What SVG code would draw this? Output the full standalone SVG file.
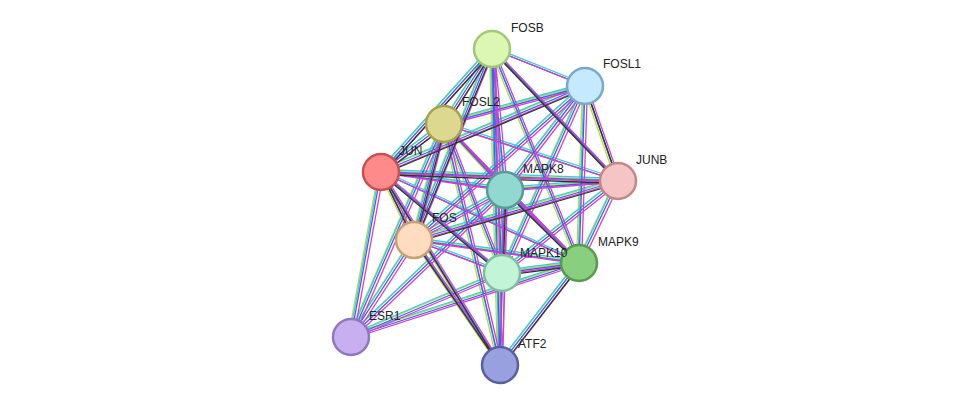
<svg xmlns="http://www.w3.org/2000/svg" xmlns:xlink="http://www.w3.org/1999/xlink" width="976" height="411" viewBox="0 0 976 411">
<style>
.e{fill:none;stroke-width:1.3}
.n{stroke-width:2.5}
text{font-family:"Liberation Sans",Arial,sans-serif;font-size:12px;fill:#222}
</style>
<defs>
<path id="all" d="M492 49L585 86M492 49L444 124M492 49L381 172M492 49L505 190M492 49L618 181M492 49L414 240M492 49L502 273M492 49L579 263M585 86L444 124M585 86L381 172M585 86L505 190M585 86L618 181M585 86L414 240M585 86L502 273M585 86L579 263M444 124L381 172M444 124L505 190M444 124L618 181M444 124L414 240M444 124L502 273M444 124L579 263M381 172L505 190M381 172L618 181M381 172L414 240M381 172L502 273M381 172L579 263M505 190L618 181M505 190L414 240M505 190L502 273M505 190L579 263M618 181L414 240M618 181L502 273M618 181L579 263M414 240L502 273M414 240L579 263M502 273L579 263M351 337L381 172M351 337L414 240M351 337L444 124M351 337L505 190M351 337L502 273M351 337L579 263M500 365L381 172M500 365L414 240M500 365L444 124M500 365L505 190M500 365L502 273M500 365L579 263M500 365L492 49"/>
<path id="blk" d="M492 49L444 124M492 49L381 172M492 49L414 240M492 49L618 181M585 86L381 172M585 86L618 181M444 124L381 172M444 124L414 240M381 172L414 240M381 172L618 181M381 172L502 273M505 190L579 263M505 190L502 273M502 273L579 263M500 365L579 263M500 365L414 240M500 365L381 172M414 240L618 181"/>
</defs>
<g id="connectors">
<use xlink:href="#all" class="e" stroke="#b8dc40" transform="translate(-2.5,-1)"/>
<use xlink:href="#all" class="e" stroke="#40c8e0" transform="translate(-1,-2.5)"/>
<use xlink:href="#all" class="e" stroke="#4060e8" transform="translate(0,0)"/>
<use xlink:href="#all" class="e" stroke="#d040d0" transform="translate(2.5,1)"/>
<use xlink:href="#blk" class="e" stroke="#333" transform="translate(1,2.5)"/>
</g>
<g id="FOSB"><circle class="n" cx="492" cy="49" r="18" fill="#dcf7b4" stroke="#a0c878"/></g>
<g id="FOSL1"><circle class="n" cx="585" cy="86" r="18" fill="#c5eaff" stroke="#7aa8c8"/></g>
<g id="FOSL2"><circle class="n" cx="444" cy="124" r="18" fill="#dcd890" stroke="#a8a050"/></g>
<g id="JUN"><circle class="n" cx="381" cy="172" r="18" fill="#ff8a8a" stroke="#c85050"/></g>
<g id="MAPK8"><circle class="n" cx="505" cy="190" r="18" fill="#90d8d0" stroke="#5a9a96"/></g>
<g id="JUNB"><circle class="n" cx="618" cy="181" r="18" fill="#f5c5c5" stroke="#c08888"/></g>
<g id="FOS"><circle class="n" cx="414" cy="240" r="18" fill="#ffdcc0" stroke="#c8a070"/></g>
<g id="MAPK10"><circle class="n" cx="502" cy="273" r="18" fill="#c2f5d8" stroke="#80c0a0"/></g>
<g id="MAPK9"><circle class="n" cx="579" cy="263" r="18" fill="#88d080" stroke="#5a9a50"/></g>
<g id="ESR1"><circle class="n" cx="351" cy="337" r="18" fill="#c8b0f0" stroke="#9078c0"/></g>
<g id="ATF2"><circle class="n" cx="500" cy="365" r="18" fill="#98a0e0" stroke="#5860a0"/></g>
<g id="labels">
<text x="511" y="32">FOSB</text><text x="603" y="68">FOSL1</text><text x="462" y="106">FOSL2</text><text x="399" y="155">JUN</text><text x="523" y="173">MAPK8</text><text x="636" y="164">JUNB</text><text x="432" y="222">FOS</text><text x="520" y="257">MAPK10</text><text x="598" y="246">MAPK9</text><text x="369" y="320">ESR1</text><text x="518" y="348">ATF2</text>
</g>
</svg>
